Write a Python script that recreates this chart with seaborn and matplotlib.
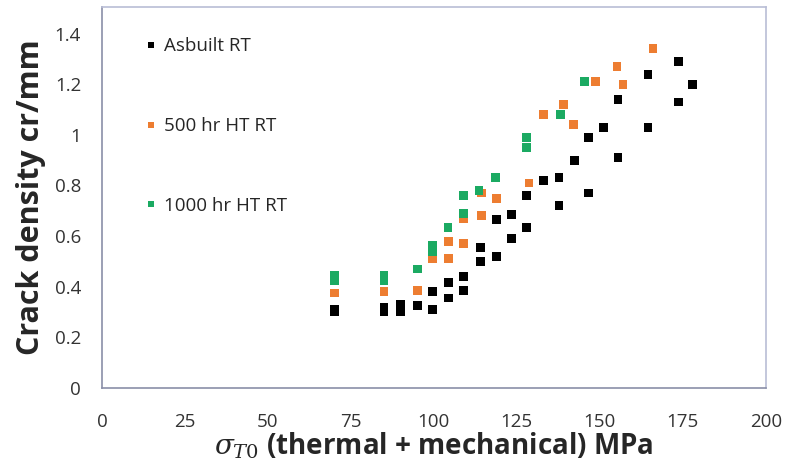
import matplotlib
matplotlib.use("Agg")
import matplotlib.pyplot as plt
import seaborn as sns
import pandas as pd
from matplotlib.ticker import FuncFormatter

# Data
asbuilt_x = [70, 70, 85, 85, 90, 90, 95, 99.5, 99.5, 104.5, 104.5, 109, 109, 114, 114,
             118.8, 118.8, 123.4, 123.4, 128, 128, 133, 137.7, 137.7, 142.3, 146.6, 146.6,
             151.2, 155.5, 155.5, 164.5, 164.5, 173.7, 173.7, 178]
asbuilt_y = [0.30, 0.31, 0.30, 0.32, 0.30, 0.33, 0.325, 0.38, 0.31, 0.415, 0.355, 0.44, 0.385,
             0.555, 0.50, 0.665, 0.52, 0.685, 0.59, 0.76, 0.635, 0.82, 0.83, 0.72, 0.90,
             0.99, 0.77, 1.03, 1.14, 0.91, 1.24, 1.03, 1.29, 1.13, 1.20]

ht500_x = [70, 85, 95, 99.5, 104.5, 104.5, 109, 109, 114.3, 114.3, 119, 128.7, 133, 139,
           142, 148.7, 155.2, 157, 166]
ht500_y = [0.375, 0.38, 0.385, 0.51, 0.58, 0.51, 0.57, 0.67, 0.68, 0.77, 0.75, 0.81, 1.08,
           1.12, 1.04, 1.21, 1.27, 1.20, 1.34]

ht1000_x = [70, 70, 85, 85, 95, 99.5, 99.5, 104.3, 109, 109, 113.6, 118.5, 128, 128, 138.2, 145.5]
ht1000_y = [0.445, 0.425, 0.445, 0.425, 0.47, 0.565, 0.54, 0.635, 0.76, 0.69, 0.78, 0.83,
            0.99, 0.95, 1.08, 1.21]

series_names = ["Asbuilt RT", "500 hr HT RT", "1000 hr HT RT"]
series_colors = ["#000000", "#ED7D31", "#1BAA62"]

x_ticks = [0, 25, 50, 75, 100, 125, 150, 175, 200]
y_ticks = [0, 0.2, 0.4, 0.6, 0.8, 1.0, 1.2, 1.4]

df = pd.concat([
    pd.DataFrame({"x": asbuilt_x, "y": asbuilt_y, "series": series_names[0]}),
    pd.DataFrame({"x": ht500_x, "y": ht500_y, "series": series_names[1]}),
    pd.DataFrame({"x": ht1000_x, "y": ht1000_y, "series": series_names[2]}),
])

sns.set_style("white")
plt.rcParams["font.family"] = ["Open Sans", "DejaVu Sans"]
plt.rcParams["mathtext.fontset"] = "dejavuserif"

fig = plt.figure(figsize=(7.96, 4.73), dpi=100)
ax = fig.add_axes([0.128, 0.180, 0.834, 0.805])

sns.scatterplot(data=df, x="x", y="y", hue="series", hue_order=series_names,
                palette=series_colors, marker="s", s=40, linewidth=0, ax=ax)

ax.set_xlim(0, 200)
ax.set_ylim(0, 1.505)
ax.set_xticks(x_ticks)
ax.set_yticks(y_ticks)
ax.yaxis.set_major_formatter(FuncFormatter(lambda v, p: f"{v:g}"))
ax.tick_params(axis="x", direction="inout", length=8, width=1, color="#8a8a8a",
               labelsize=13.5, pad=14, colors="#333333")
ax.tick_params(axis="y", direction="out", length=6, width=1, color="#8a8a8a",
               labelsize=13.5, pad=9, colors="#333333")
ax.tick_params(axis="both", which="both", color="#8a8a8a")

for side in ["top", "right"]:
    ax.spines[side].set_color("#b9bdd6")
    ax.spines[side].set_linewidth(1.2)
for side in ["left", "bottom"]:
    ax.spines[side].set_color("#8a8fa8")
    ax.spines[side].set_linewidth(1.2)

ax.set_xlabel(r"$\sigma_{T0}$ (thermal + mechanical) MPa", fontsize=20,
              fontweight="bold", labelpad=0)
ax.set_ylabel("Crack density cr/mm", fontsize=22, fontweight="bold", labelpad=6)

leg = ax.legend(loc="upper left", bbox_to_anchor=(0.035, 0.965), frameon=False,
                fontsize=13.5, labelspacing=3.3, handletextpad=0.15, markerscale=0.6,
                handlelength=1.0)

fig.savefig("out.png", dpi=100)
